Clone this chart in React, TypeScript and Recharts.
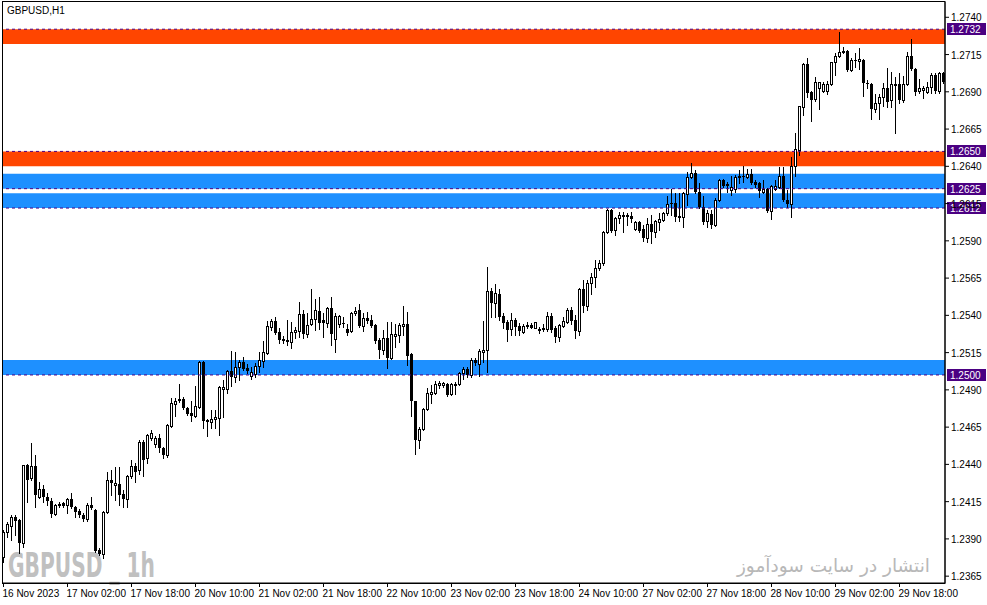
import React from 'react';
import { ComposedChart, Bar, XAxis, YAxis, ReferenceArea, ReferenceLine } from 'recharts';

// GBPUSD H1 candles, 16 Nov 2023 10:00 onward (one row of ten per line)
const OPEN = [
  1.23779, 1.23947, 1.23987, 1.24047, 1.24027, 1.23873, 1.24395, 1.24309, 1.24389, 1.24181,
  1.24235, 1.24181, 1.24154, 1.24067, 1.24127, 1.24141, 1.24127, 1.24168, 1.24114, 1.24087,
  1.24060, 1.24034, 1.24127, 1.24094, 1.23826, 1.23799, 1.24081, 1.24295, 1.24262, 1.24268,
  1.24201, 1.24168, 1.24322, 1.24389, 1.24362, 1.24550, 1.24443, 1.24577, 1.24537, 1.24577,
  1.24510, 1.24463, 1.24658, 1.24805, 1.24839, 1.24839, 1.24778, 1.24745, 1.24725, 1.24785,
  1.25087, 1.24698, 1.24684, 1.24704, 1.24711, 1.24906, 1.24906, 1.25027, 1.24986, 1.25053,
  1.25087, 1.25047, 1.24993, 1.25006, 1.25060, 1.25094, 1.25147, 1.25322, 1.25362, 1.25288,
  1.25241, 1.25235, 1.25221, 1.25288, 1.25295, 1.25409, 1.25275, 1.25342, 1.25375, 1.25429,
  1.25369, 1.25349, 1.25449, 1.25241, 1.25342, 1.25349, 1.25308, 1.25295, 1.25416, 1.25436,
  1.25329, 1.25382, 1.25369, 1.25335, 1.25235, 1.25168, 1.25248, 1.25114, 1.25261, 1.25268,
  1.25329, 1.25342, 1.25141, 1.24825, 1.24564, 1.24637, 1.24772, 1.24872, 1.24879, 1.24933,
  1.24933, 1.24939, 1.24872, 1.24933, 1.24939, 1.25013, 1.25040, 1.25000, 1.25100, 1.25074,
  1.25154, 1.25168, 1.25563, 1.25483, 1.25543, 1.25396, 1.25355, 1.25308, 1.25369, 1.25329,
  1.25288, 1.25335, 1.25335, 1.25315, 1.25302, 1.25308, 1.25308, 1.25396, 1.25315, 1.25255,
  1.25329, 1.25355, 1.25436, 1.25369, 1.25295, 1.25577, 1.25463, 1.25617, 1.25657, 1.25718,
  1.25751, 1.25959, 1.26107, 1.25973, 1.26053, 1.26073, 1.26073, 1.26067, 1.25979, 1.26026,
  1.25979, 1.25919, 1.26013, 1.25959, 1.26026, 1.26040, 1.26087, 1.26154, 1.26154, 1.26067,
  1.26060, 1.26214, 1.26328, 1.26355, 1.26228, 1.26127, 1.26033, 1.26080, 1.26006, 1.26174,
  1.26308, 1.26281, 1.26241, 1.26248, 1.26328, 1.26335, 1.26328, 1.26348, 1.26295, 1.26288,
  1.26228, 1.26248, 1.26100, 1.26248, 1.26261, 1.26335, 1.26174, 1.26147, 1.26402, 1.26510,
  1.26798, 1.27087, 1.26899, 1.26852, 1.26926, 1.26905, 1.26905, 1.26952, 1.27100, 1.27140,
  1.27167, 1.27174, 1.27046, 1.27113, 1.27107, 1.27113, 1.26959, 1.26952, 1.26785, 1.26825,
  1.26865, 1.26926, 1.26845, 1.26952, 1.26952, 1.26845, 1.26952, 1.27140, 1.27053, 1.26905,
  1.26912, 1.26899, 1.26932, 1.27013, 1.26905, 1.27026,
];

const HIGH = [
  1.23960, 1.24014, 1.24060, 1.24060, 1.24034, 1.24395, 1.24400, 1.24543, 1.24463, 1.24282,
  1.24262, 1.24208, 1.24175, 1.24134, 1.24148, 1.24148, 1.24175, 1.24208, 1.24121, 1.24101,
  1.24074, 1.24141, 1.24181, 1.24101, 1.23839, 1.24087, 1.24349, 1.24362, 1.24382, 1.24382,
  1.24228, 1.24329, 1.24429, 1.24409, 1.24564, 1.24564, 1.24604, 1.24631, 1.24591, 1.24604,
  1.24517, 1.24671, 1.24845, 1.24845, 1.24939, 1.24852, 1.24785, 1.24825, 1.24926, 1.25094,
  1.25094, 1.24704, 1.24765, 1.24765, 1.24926, 1.24966, 1.25033, 1.25161, 1.25154, 1.25100,
  1.25121, 1.25074, 1.25053, 1.25080, 1.25154, 1.25228, 1.25362, 1.25375, 1.25389, 1.25315,
  1.25261, 1.25369, 1.25355, 1.25322, 1.25490, 1.25436, 1.25416, 1.25577, 1.25510, 1.25523,
  1.25416, 1.25456, 1.25523, 1.25416, 1.25402, 1.25389, 1.25342, 1.25422, 1.25456, 1.25476,
  1.25416, 1.25422, 1.25402, 1.25342, 1.25248, 1.25302, 1.25355, 1.25355, 1.25342, 1.25349,
  1.25463, 1.25422, 1.25147, 1.24825, 1.24651, 1.24778, 1.24913, 1.24933, 1.24960, 1.24960,
  1.24953, 1.24946, 1.24946, 1.24953, 1.25020, 1.25053, 1.25053, 1.25114, 1.25114, 1.25174,
  1.25362, 1.25724, 1.25584, 1.25610, 1.25577, 1.25416, 1.25369, 1.25416, 1.25382, 1.25349,
  1.25342, 1.25355, 1.25349, 1.25355, 1.25322, 1.25342, 1.25422, 1.25416, 1.25329, 1.25342,
  1.25389, 1.25449, 1.25456, 1.25402, 1.25584, 1.25637, 1.25637, 1.25684, 1.25771, 1.25771,
  1.25966, 1.26114, 1.26114, 1.26060, 1.26094, 1.26094, 1.26087, 1.26094, 1.26033, 1.26033,
  1.26006, 1.26053, 1.26073, 1.26040, 1.26087, 1.26094, 1.26201, 1.26248, 1.26221, 1.26221,
  1.26228, 1.26362, 1.26422, 1.26375, 1.26288, 1.26201, 1.26107, 1.26107, 1.26187, 1.26315,
  1.26315, 1.26295, 1.26335, 1.26342, 1.26375, 1.26402, 1.26382, 1.26382, 1.26308, 1.26295,
  1.26308, 1.26255, 1.26275, 1.26308, 1.26395, 1.26395, 1.26241, 1.26463, 1.26624, 1.26805,
  1.27093, 1.27127, 1.26905, 1.26999, 1.26966, 1.26966, 1.26973, 1.27100, 1.27160, 1.27301,
  1.27201, 1.27180, 1.27127, 1.27160, 1.27194, 1.27120, 1.26979, 1.26959, 1.26885, 1.26885,
  1.26959, 1.27060, 1.27033, 1.26999, 1.27026, 1.27006, 1.27167, 1.27254, 1.27060, 1.26986,
  1.26939, 1.26966, 1.27026, 1.27026, 1.27033, 1.27033,
];

const LOW = [
  1.23745, 1.23913, 1.23893, 1.23926, 1.23806, 1.23846, 1.24148, 1.24295, 1.24114, 1.24175,
  1.24148, 1.24127, 1.24047, 1.24060, 1.24114, 1.24114, 1.24074, 1.24107, 1.24047, 1.24047,
  1.24020, 1.24020, 1.24101, 1.23812, 1.23792, 1.23772, 1.24074, 1.24195, 1.24161, 1.24127,
  1.24114, 1.24114, 1.24309, 1.24282, 1.24335, 1.24322, 1.24409, 1.24564, 1.24517, 1.24483,
  1.24443, 1.24449, 1.24651, 1.24725, 1.24819, 1.24772, 1.24731, 1.24691, 1.24718, 1.24778,
  1.24644, 1.24591, 1.24644, 1.24644, 1.24597, 1.24718, 1.24879, 1.24926, 1.24953, 1.24966,
  1.25033, 1.25013, 1.24973, 1.24986, 1.25020, 1.25053, 1.25141, 1.25302, 1.25275, 1.25214,
  1.25214, 1.25201, 1.25181, 1.25248, 1.25255, 1.25248, 1.25255, 1.25335, 1.25302, 1.25308,
  1.25255, 1.25322, 1.25201, 1.25154, 1.25322, 1.25322, 1.25268, 1.25288, 1.25402, 1.25322,
  1.25295, 1.25349, 1.25322, 1.25214, 1.25114, 1.25141, 1.25047, 1.25107, 1.25188, 1.25221,
  1.25268, 1.25067, 1.24725, 1.24470, 1.24510, 1.24631, 1.24765, 1.24812, 1.24872, 1.24913,
  1.24919, 1.24859, 1.24865, 1.24872, 1.24933, 1.24973, 1.24986, 1.24986, 1.25067, 1.24993,
  1.25087, 1.25020, 1.25389, 1.25389, 1.25369, 1.25315, 1.25228, 1.25268, 1.25268, 1.25268,
  1.25282, 1.25315, 1.25315, 1.25315, 1.25282, 1.25295, 1.25295, 1.25288, 1.25221, 1.25228,
  1.25322, 1.25349, 1.25342, 1.25248, 1.25268, 1.25422, 1.25436, 1.25543, 1.25590, 1.25704,
  1.25738, 1.25953, 1.25959, 1.25939, 1.26020, 1.25959, 1.26006, 1.26026, 1.25973, 1.25959,
  1.25899, 1.25892, 1.25885, 1.25926, 1.25973, 1.26033, 1.26073, 1.26073, 1.26033, 1.26033,
  1.25993, 1.26140, 1.26322, 1.26221, 1.26120, 1.26013, 1.25993, 1.25986, 1.26000, 1.26167,
  1.26261, 1.26228, 1.26208, 1.26228, 1.26288, 1.26295, 1.26322, 1.26281, 1.26261, 1.26194,
  1.26221, 1.26094, 1.26047, 1.26241, 1.26255, 1.26167, 1.26127, 1.26060, 1.26335, 1.26476,
  1.26744, 1.26865, 1.26704, 1.26838, 1.26785, 1.26899, 1.26885, 1.26946, 1.27013, 1.27134,
  1.27160, 1.27040, 1.27040, 1.27066, 1.27053, 1.26872, 1.26926, 1.26717, 1.26764, 1.26717,
  1.26805, 1.26798, 1.26798, 1.26624, 1.26825, 1.26832, 1.26946, 1.27046, 1.26879, 1.26892,
  1.26858, 1.26892, 1.26892, 1.26892, 1.26892, 1.26959,
];

const CLOSE = [
  1.23947, 1.24000, 1.24047, 1.24020, 1.23873, 1.24395, 1.24295, 1.24389, 1.24195, 1.24235,
  1.24181, 1.24154, 1.24067, 1.24127, 1.24134, 1.24121, 1.24168, 1.24114, 1.24081, 1.24060,
  1.24034, 1.24127, 1.24107, 1.23819, 1.23799, 1.24081, 1.24295, 1.24275, 1.24275, 1.24195,
  1.24168, 1.24322, 1.24389, 1.24349, 1.24550, 1.24429, 1.24597, 1.24611, 1.24577, 1.24510,
  1.24463, 1.24664, 1.24812, 1.24825, 1.24825, 1.24778, 1.24738, 1.24725, 1.24792, 1.25087,
  1.24691, 1.24684, 1.24704, 1.24718, 1.24919, 1.24919, 1.25027, 1.24986, 1.25053, 1.25087,
  1.25040, 1.25027, 1.25020, 1.25060, 1.25100, 1.25154, 1.25329, 1.25362, 1.25282, 1.25235,
  1.25228, 1.25221, 1.25288, 1.25302, 1.25409, 1.25275, 1.25335, 1.25375, 1.25436, 1.25349,
  1.25349, 1.25449, 1.25275, 1.25396, 1.25396, 1.25342, 1.25282, 1.25416, 1.25429, 1.25329,
  1.25382, 1.25362, 1.25329, 1.25228, 1.25168, 1.25248, 1.25114, 1.25275, 1.25275, 1.25335,
  1.25342, 1.25127, 1.24825, 1.24564, 1.24637, 1.24772, 1.24879, 1.24886, 1.24939, 1.24946,
  1.24946, 1.24865, 1.24939, 1.24939, 1.25013, 1.25040, 1.25000, 1.25100, 1.25080, 1.25161,
  1.25168, 1.25563, 1.25483, 1.25550, 1.25389, 1.25349, 1.25302, 1.25369, 1.25322, 1.25295,
  1.25329, 1.25322, 1.25318, 1.25355, 1.25308, 1.25315, 1.25396, 1.25302, 1.25255, 1.25335,
  1.25362, 1.25436, 1.25362, 1.25295, 1.25577, 1.25463, 1.25617, 1.25657, 1.25718, 1.25751,
  1.25959, 1.26107, 1.25966, 1.26053, 1.26073, 1.26060, 1.26060, 1.26047, 1.26026, 1.25966,
  1.25919, 1.26013, 1.25959, 1.26033, 1.26047, 1.26087, 1.26147, 1.26147, 1.26060, 1.26053,
  1.26221, 1.26328, 1.26355, 1.26228, 1.26127, 1.26026, 1.26087, 1.26006, 1.26174, 1.26308,
  1.26268, 1.26268, 1.26261, 1.26328, 1.26335, 1.26328, 1.26348, 1.26288, 1.26275, 1.26234,
  1.26248, 1.26100, 1.26268, 1.26268, 1.26335, 1.26174, 1.26147, 1.26402, 1.26516, 1.26805,
  1.27087, 1.26892, 1.26845, 1.26966, 1.26966, 1.26952, 1.26952, 1.27100, 1.27140, 1.27167,
  1.27174, 1.27046, 1.27113, 1.27107, 1.27120, 1.26959, 1.26952, 1.26785, 1.26825, 1.26865,
  1.26926, 1.26832, 1.26952, 1.26939, 1.26845, 1.26952, 1.27140, 1.27053, 1.26899, 1.26926,
  1.26926, 1.26932, 1.27013, 1.26905, 1.27026, 1.26966,
];

const TICK_BARS = [0, 16, 32, 48, 64, 80, 96, 112, 128, 144, 160, 176, 192, 208, 224];
const TICK_LABELS = [
  '16 Nov 2023', '17 Nov 02:00', '17 Nov 18:00', '20 Nov 10:00', '21 Nov 02:00',
  '21 Nov 18:00', '22 Nov 10:00', '23 Nov 02:00', '23 Nov 18:00', '24 Nov 10:00',
  '27 Nov 02:00', '27 Nov 18:00', '28 Nov 10:00', '29 Nov 02:00', '29 Nov 18:00',
];
const PRICE_TICKS = [
  1.2365, 1.2390, 1.2415, 1.2440, 1.2465, 1.2490, 1.2515, 1.2540,
  1.2565, 1.2590, 1.2615, 1.2640, 1.2665, 1.2690, 1.2715, 1.2740,
];

// supply / demand zones and their levels
const ZONE_HIGH = [1.2732, 1.2650, 1.2635, 1.2622, 1.2510];
const ZONE_LOW = [1.2722, 1.2640, 1.2625, 1.2612, 1.2500];
const ZONE_COLOR = ['#ff4500', '#ff4500', '#1e90ff', '#1e90ff', '#1e90ff'];
const LEVELS = [1.2732, 1.2650, 1.2625, 1.2612, 1.2500];

const Y_MIN = 1.236041;
const Y_MAX = 1.275026;
const FONT = '"Liberation Sans", Arial, sans-serif';
const LEVEL_COLOR = '#4b0082';

const data = OPEN.map((o, i) => ({
  i,
  open: o,
  high: HIGH[i],
  low: LOW[i],
  close: CLOSE[i],
  range: [LOW[i], HIGH[i]],
}));

function Candle(props: any) {
  const { x, y, width, height, payload } = props;
  if (!payload) return null;
  const { open, high, low, close } = payload;
  const cx = Math.floor(x + width / 2) + 0.5;
  const k = high > low ? height / (high - low) : 0;
  const yTop = Math.round(y);
  const yBot = Math.round(y + height);
  const bTop = Math.round(y + (high - Math.max(open, close)) * k);
  const bBot = Math.round(y + (high - Math.min(open, close)) * k);
  const bull = close >= open;
  return (
    <g shapeRendering="crispEdges">
      <line x1={cx} x2={cx} y1={yTop} y2={yBot + 1} stroke="#000" strokeWidth={1} />
      {bull ? (
        <rect x={cx - 1} y={bTop + 0.5} width={2} height={Math.max(bBot - bTop, 1)} fill="#fff" stroke="#000" strokeWidth={1} />
      ) : (
        <rect x={cx - 1.5} y={bTop} width={3} height={Math.max(bBot - bTop, 1)} fill="#000" />
      )}
    </g>
  );
}

function TimeTick(props: any) {
  const { x, y, payload } = props;
  const idx = TICK_BARS.indexOf(payload.value);
  return (
    <text x={x - 1} y={y + 8} fontSize={10} fontFamily={FONT} fill="#000" textAnchor="start">
      {TICK_LABELS[idx]}
    </text>
  );
}

function PriceTick(props: any) {
  const { x, y, payload } = props;
  return (
    <text x={x} y={y + 4} fontSize={10} fontFamily={FONT} fill="#000" textAnchor="start">
      {Number(payload.value).toFixed(4)}
    </text>
  );
}

function priceTag(props: any, value: number) {
  const vb = props.viewBox || {};
  const left = vb.x + vb.width + 2;
  const cy = Math.round(vb.y);
  return (
    <g>
      <rect x={left} y={cy - 6} width={39} height={12} fill={LEVEL_COLOR} />
      <text x={left + 3} y={cy + 4} fontSize={10} fontFamily={FONT} fill="#fff">
        {value.toFixed(4)}
      </text>
    </g>
  );
}

export default function App() {
  return (
    <div style={{ position: 'absolute', left: 0, top: 0, width: 987, height: 605, background: '#fff', overflow: 'hidden' }}>
      <svg width={987} height={605} style={{ position: 'absolute', left: 0, top: 0 }}>
        <text x={8} y={577} fontSize={33} fontWeight="bold" fontFamily='"Liberation Sans Narrow", "DejaVu Sans Condensed", sans-serif'
          fill="#c0c0c0" textLength={147} lengthAdjust="spacingAndGlyphs">
          GBPUSD _ 1h
        </text>
        <text x={930} y={572} fontSize={18.5} fontFamily='"DejaVu Sans", sans-serif' fill="#b8b8b8" textAnchor="end">
          انتشار در سایت سودآموز
        </text>
      </svg>
      <div style={{ position: 'absolute', left: 0, top: 0 }}>
        <ComposedChart width={987} height={605} data={data} margin={{ top: 2, right: 0, bottom: 0, left: 3 }}>
          {ZONE_HIGH.map((h, z) => (
            <ReferenceArea key={'z' + z} y1={ZONE_LOW[z]} y2={h} fill={ZONE_COLOR[z]} fillOpacity={1} stroke="none" ifOverflow="visible" />
          ))}
          <XAxis
            dataKey="i"
            type="number"
            domain={[-0.125, 235.375]}
            allowDataOverflow
            ticks={TICK_BARS}
            tick={<TimeTick />}
            tickSize={4}
            height={22}
            axisLine={{ stroke: '#000' }}
            tickLine={{ stroke: '#000' }}
            interval={0}
          />
          <YAxis
            orientation="right"
            domain={[Y_MIN, Y_MAX]}
            allowDataOverflow
            ticks={PRICE_TICKS}
            tick={<PriceTick />}
            tickSize={4}
            width={42}
            axisLine={{ stroke: '#000' }}
            tickLine={{ stroke: '#000' }}
            interval={0}
          />
          <Bar dataKey="range" shape={<Candle />} isAnimationActive={false} barSize={3} />
          {LEVELS.map((v, n) => (
            <ReferenceLine
              key={'l' + n}
              y={v}
              stroke={LEVEL_COLOR}
              strokeDasharray="3 3"
              ifOverflow="visible"
              label={{ content: (p: any) => priceTag(p, v) }}
            />
          ))}
        </ComposedChart>
      </div>
      <svg width={987} height={605} style={{ position: 'absolute', left: 0, top: 0, pointerEvents: 'none' }}>
        <rect x={2.5} y={1.5} width={942.5} height={582} fill="none" stroke="#000" strokeWidth={1} />
        <text x={7} y={14} fontSize={10} fontFamily={FONT} fill="#000">GBPUSD,H1</text>
      </svg>
    </div>
  );
}
